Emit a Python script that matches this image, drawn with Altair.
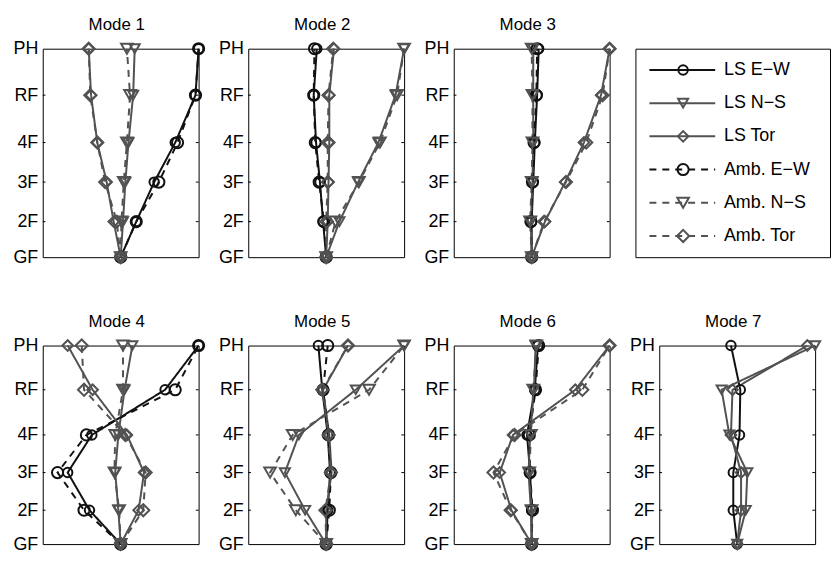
import json
import altair as alt
import pandas as pd

FLOORS = ["GF", "2F", "3F", "4F", "RF", "PH"]
ELEV = [0.0, 3.6, 7.6, 11.6, 16.4, 21.1]
SERIES = ["LS E−W", "LS N−S", "LS Tor", "Amb. E−W", "Amb. N−S", "Amb. Tor"]
COLORS = ["#111111", "#525252", "#525252", "#111111", "#525252", "#525252"]
SHAPES = ["circle", "triangle-down", "diamond", "circle", "triangle-down", "diamond"]
SIZES = [90, 150, 120, 90, 150, 120]
DASHES = [[1, 0], [1, 0], [1, 0], [7, 6], [7, 6], [7, 6]]
TITLES = ["Mode 1", "Mode 2", "Mode 3", "Mode 4", "Mode 5", "Mode 6", "Mode 7"]

# normalised mode-shape ordinates, GF -> PH
MODE1 = {
    "LS E−W": [0, 0.20, 0.43, 0.70, 0.96, 1.00],
    "LS N−S": [0, 0.03, 0.06, 0.10, 0.16, 0.18],
    "LS Tor": [0, -0.09, -0.18, -0.30, -0.38, -0.41],
    "Amb. E−W": [0, 0.20, 0.49, 0.73, 0.96, 1.00],
    "Amb. N−S": [0, 0.01, 0.04, 0.08, 0.12, 0.08],
    "Amb. Tor": [0, -0.05, -0.20, -0.30, -0.39, -0.41],
}
MODE2 = {
    "LS E−W": [0, -0.04, -0.08, -0.13, -0.16, -0.12],
    "LS N−S": [0, 0.17, 0.41, 0.67, 0.89, 1.00],
    "LS Tor": [0, 0.02, 0.03, 0.04, 0.04, 0.10],
    "Amb. E−W": [0, -0.03, -0.09, -0.14, -0.16, -0.15],
    "Amb. N−S": [0, 0.12, 0.42, 0.69, 0.91, 1.00],
    "Amb. Tor": [0, 0.00, 0.02, 0.02, 0.03, 0.09],
}
MODE3 = {
    "LS E−W": [0, 0.00, 0.02, 0.04, 0.07, 0.09],
    "LS N−S": [0, -0.01, 0.01, 0.02, 0.02, 0.02],
    "LS Tor": [0, 0.17, 0.43, 0.67, 0.89, 1.00],
    "Amb. E−W": [0, -0.01, 0.01, 0.03, 0.06, 0.07],
    "Amb. N−S": [0, -0.02, 0.00, 0.01, 0.01, 0.00],
    "Amb. Tor": [0, 0.16, 0.44, 0.70, 0.91, 1.00],
}
MODE4 = {
    "LS E−W": [0, -0.40, -0.68, -0.37, 0.57, 1.00],
    "LS N−S": [0, -0.03, -0.07, -0.03, 0.05, 0.15],
    "LS Tor": [0, 0.23, 0.30, 0.08, -0.36, -0.68],
    "Amb. E−W": [0, -0.47, -0.81, -0.44, 0.70, 1.00],
    "Amb. N−S": [0, -0.02, -0.08, -0.07, 0.03, 0.03],
    "Amb. Tor": [0, 0.29, 0.32, 0.06, -0.47, -0.50],
}
MODE5 = {
    "LS E−W": [0, 0.02, 0.05, 0.02, -0.05, -0.10],
    "LS N−S": [0, -0.27, -0.53, -0.35, 0.38, 1.00],
    "LS Tor": [0, 0.00, 0.07, 0.04, -0.04, 0.28],
    "Amb. E−W": [0, 0.04, 0.06, 0.03, -0.04, 0.02],
    "Amb. N−S": [0, -0.39, -0.72, -0.43, 0.55, 1.00],
    "Amb. Tor": [0, -0.01, 0.06, 0.03, -0.05, 0.28],
}
MODE6 = {
    "LS E−W": [0, 0.00, -0.02, -0.06, 0.04, 0.08],
    "LS N−S": [0, -0.01, -0.04, -0.02, 0.03, 0.05],
    "LS Tor": [0, -0.26, -0.41, -0.24, 0.56, 1.00],
    "Amb. E−W": [0, 0.01, -0.02, -0.03, 0.05, 0.09],
    "Amb. N−S": [0, 0.00, -0.03, -0.01, 0.02, 0.06],
    "Amb. Tor": [0, -0.27, -0.49, -0.22, 0.65, 1.00],
}
MODE7 = {
    "LS E−W": [0, -0.05, -0.05, 0.03, 0.04, -0.08],
    "LS N−S": [0, 0.11, 0.13, -0.10, -0.20, 1.00],
    "LS Tor": [0, 0.05, 0.05, -0.08, -0.06, 0.90],
}

FONT = "Liberation Sans"
FS = 18

cscale = alt.Scale(domain=SERIES, range=COLORS)
dscale = alt.Scale(domain=SERIES, range=DASHES)
sscale = alt.Scale(domain=SERIES, range=SHAPES)
zscale = alt.Scale(domain=SERIES, range=SIZES)
label_expr = "%s[indexof(%s, datum.value)]" % (json.dumps(FLOORS), json.dumps(ELEV))


def panel(mode, title, h, w=157):
    rows = []
    for s, vals in mode.items():
        for f, e, v in zip(FLOORS, ELEV, vals):
            rows.append({"series": s, "floor": f, "elev": e, "x": v})
    df = pd.DataFrame(rows)
    xs = alt.Scale(domain=[-1, 1], nice=False, zero=False)
    ys = alt.Scale(domain=[ELEV[0], ELEV[-1]], nice=False, zero=False)
    yaxis = alt.Axis(values=ELEV, labelExpr=label_expr, ticks=False, domain=False,
                     grid=False, labelFontSize=FS, labelFont=FONT, labelColor="black",
                     labelPadding=5, title=None)
    base = alt.Chart(df)
    lines = base.mark_line(strokeWidth=2).encode(
        x=alt.X("x:Q", scale=xs, axis=None),
        y=alt.Y("elev:Q", scale=ys, axis=yaxis),
        color=alt.Color("series:N", scale=cscale, legend=None),
        strokeDash=alt.StrokeDash("series:N", scale=dscale, legend=None),
        detail="series:N",
        order=alt.Order("elev:Q"),
    )
    pts = base.mark_point(filled=False, strokeWidth=2, opacity=1).encode(
        x=alt.X("x:Q", scale=xs, axis=None),
        y=alt.Y("elev:Q", scale=ys, axis=yaxis),
        color=alt.Color("series:N", scale=cscale, legend=None),
        shape=alt.Shape("series:N", scale=sscale, legend=None),
        size=alt.Size("series:N", scale=zscale, legend=None),
    )
    tdf = pd.DataFrame({"elev": ELEV[1:-1]})
    tick_l = alt.Chart(tdf).mark_rule(color="black", strokeWidth=1).encode(
        x=alt.XDatum(-1, scale=xs, axis=None), x2=alt.X2Datum(-0.965),
        y=alt.Y("elev:Q", scale=ys, axis=yaxis))
    tick_r = alt.Chart(tdf).mark_rule(color="black", strokeWidth=1).encode(
        x=alt.XDatum(1, scale=xs, axis=None), x2=alt.X2Datum(0.965),
        y=alt.Y("elev:Q", scale=ys, axis=yaxis))
    return alt.layer(tick_l, tick_r, lines, pts).properties(
        width=w, height=h,
        title=alt.TitleParams(title, fontSize=FS - 1, fontWeight="normal", font=FONT,
                              color="black", frame="group", anchor="middle",
                              offset=5, dx=-4),
    )


def legend_panel(h, w=196):
    ldf = pd.DataFrame({"series": SERIES})
    lx = alt.Scale(domain=[0, 1], nice=False, zero=False)
    ly = alt.Y("series:N", scale=alt.Scale(domain=SERIES, type="point", padding=0.64),
               axis=None)
    segs = alt.Chart(ldf).mark_rule(strokeWidth=2).encode(
        x=alt.XDatum(0.072, scale=lx, axis=None), x2=alt.X2Datum(0.41),
        y=ly,
        color=alt.Color("series:N", scale=cscale, legend=None),
        strokeDash=alt.StrokeDash("series:N", scale=dscale, legend=None),
    )
    marks = alt.Chart(ldf).mark_point(filled=False, strokeWidth=2, opacity=1).encode(
        x=alt.XDatum(0.245, scale=lx, axis=None),
        y=ly,
        color=alt.Color("series:N", scale=cscale, legend=None),
        shape=alt.Shape("series:N", scale=sscale, legend=None),
        size=alt.Size("series:N", scale=zscale, legend=None),
    )
    labels = alt.Chart(ldf).mark_text(align="left", baseline="middle", fontSize=FS,
                                      font=FONT, color="black").encode(
        x=alt.XDatum(0.455, scale=lx, axis=None),
        y=ly,
        text="series:N",
    )
    return alt.layer(segs, marks, labels).properties(width=w, height=h)


row1_panels = alt.hconcat(panel(MODE1, TITLES[0], 210), panel(MODE2, TITLES[1], 210),
                          panel(MODE3, TITLES[2], 210), spacing=50, bounds="flush")
row1 = alt.hconcat(row1_panels, legend_panel(210), spacing=14)
row2 = alt.hconcat(panel(MODE4, TITLES[3], 200), panel(MODE5, TITLES[4], 200),
                   panel(MODE6, TITLES[5], 200), panel(MODE7, TITLES[6], 200),
                   spacing=50, bounds="flush")

chart = alt.vconcat(row1, row2, spacing=44).properties(
    padding={"left": 4, "top": 5, "right": 0, "bottom": 0}
).configure_view(stroke="black", strokeWidth=1)

chart.save("out.html", embed_options={"renderer": "svg", "actions": False})
